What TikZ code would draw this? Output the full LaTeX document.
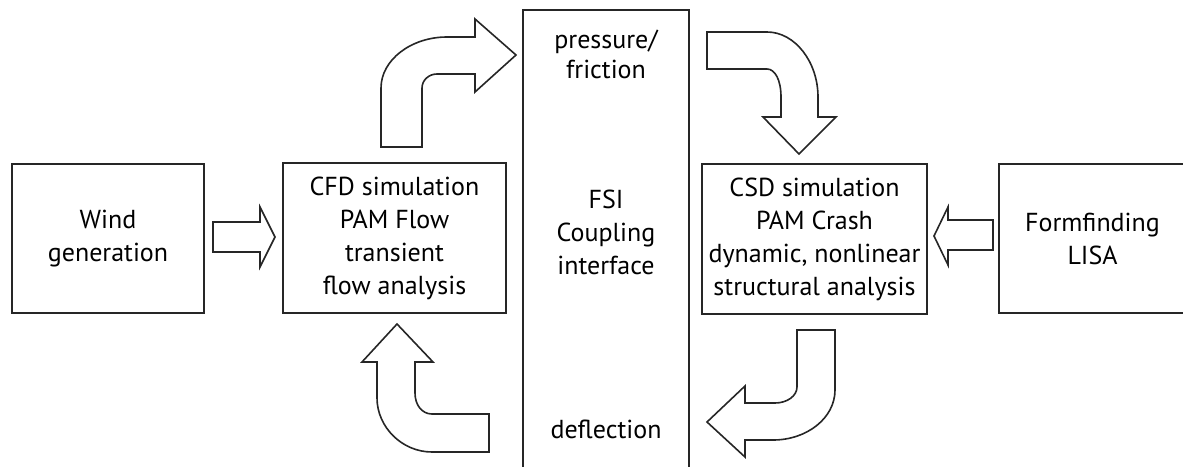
\documentclass[tikz,border=0pt]{standalone}
\usepackage{fontspec}
\setmainfont{PT Sans}
\begin{document}
\begin{tikzpicture}[x=1pt,y=-1pt,
  box/.style={draw=black!85, line width=1.6pt, inner sep=0pt, align=center, font=\fontsize{26}{33}\selectfont},
  lbl/.style={inner sep=0pt, align=center, font=\fontsize{26}{33}\selectfont},
  barrow/.style={draw=black!85, line width=1.6pt, line join=miter, fill=white}]
\useasboundingbox (0,0) rectangle (1183,466);
\clip (0,0) rectangle (1183,466);
% boxes
\node[box, minimum width=192pt, minimum height=149pt] (wind) at (108,238.5) {Wind\\generation};
\node[box, minimum width=223pt, minimum height=150pt] (cfd) at (394.5,238) {CFD simulation\\PAM Flow\\transient\\flow analysis};
\node[box, minimum width=166pt, minimum height=480pt] (fsi) at (606,250) {};
\node[box, minimum width=225pt, minimum height=150pt] (csd) at (814.5,239) {CSD simulation\\PAM Crash\\dynamic, nonlinear\\structural analysis};
\node[box, minimum width=187pt, minimum height=149pt] (form) at (1092.5,238.5) {Formfinding\\LISA};
% FSI texts
\node[lbl, font=\fontsize{26}{30}\selectfont] (press) at (606,54) {pressure/\\friction};
\node[lbl] (coup) at (606,232) {FSI\\Coupling\\interface};
\node[lbl] (defl) at (606,429) {deflection};
% straight arrows
\draw[barrow] (213,222) -- (260,222) -- (260,207) -- (275,237) -- (260,267) -- (260,252) -- (213,252) -- cycle;
\draw[barrow] (993,220) -- (948,220) -- (948,207) -- (934,236) -- (948,265) -- (948,250) -- (993,250) -- cycle;
% CFD -> FSI (top left)
\draw[barrow] (381,147) -- (381,88) .. controls (381,60) and (411,37) .. (447,37)
  -- (475,37) -- (475,19) -- (516,55) -- (475,92) -- (475,74) -- (437,74)
  .. controls (429,74) and (422,80) .. (422,88) -- (422,147) -- cycle;
% FSI -> CSD (top right)
\draw[barrow] (707,32) -- (767,32) .. controls (795,32) and (818,62) .. (818,97)
  -- (818,117) -- (836,117) -- (799,154) -- (763,117) -- (781,117) -- (781,97)
  .. controls (781,80) and (775,69) .. (767,69) -- (707,69) -- cycle;
% CSD -> FSI (bottom right)
\draw[barrow] (797,330) -- (835,330) -- (835,390) .. controls (835,418) and (807,440) .. (773,440)
  -- (745,440) -- (745,457) -- (707,422) -- (745,386) -- (745,403) -- (775,403)
  .. controls (787,403) and (797,396) .. (797,387) -- cycle;
% FSI -> CFD (bottom left)
\draw[barrow] (489,414) -- (432,414) .. controls (422,414) and (415,405) .. (415,393)
  -- (415,362) -- (433,362) -- (397,324) -- (362,362) -- (377,362) -- (377,398)
  .. controls (377,427) and (402,452) .. (432,452) -- (489,452) -- cycle;
\end{tikzpicture}
\end{document}
